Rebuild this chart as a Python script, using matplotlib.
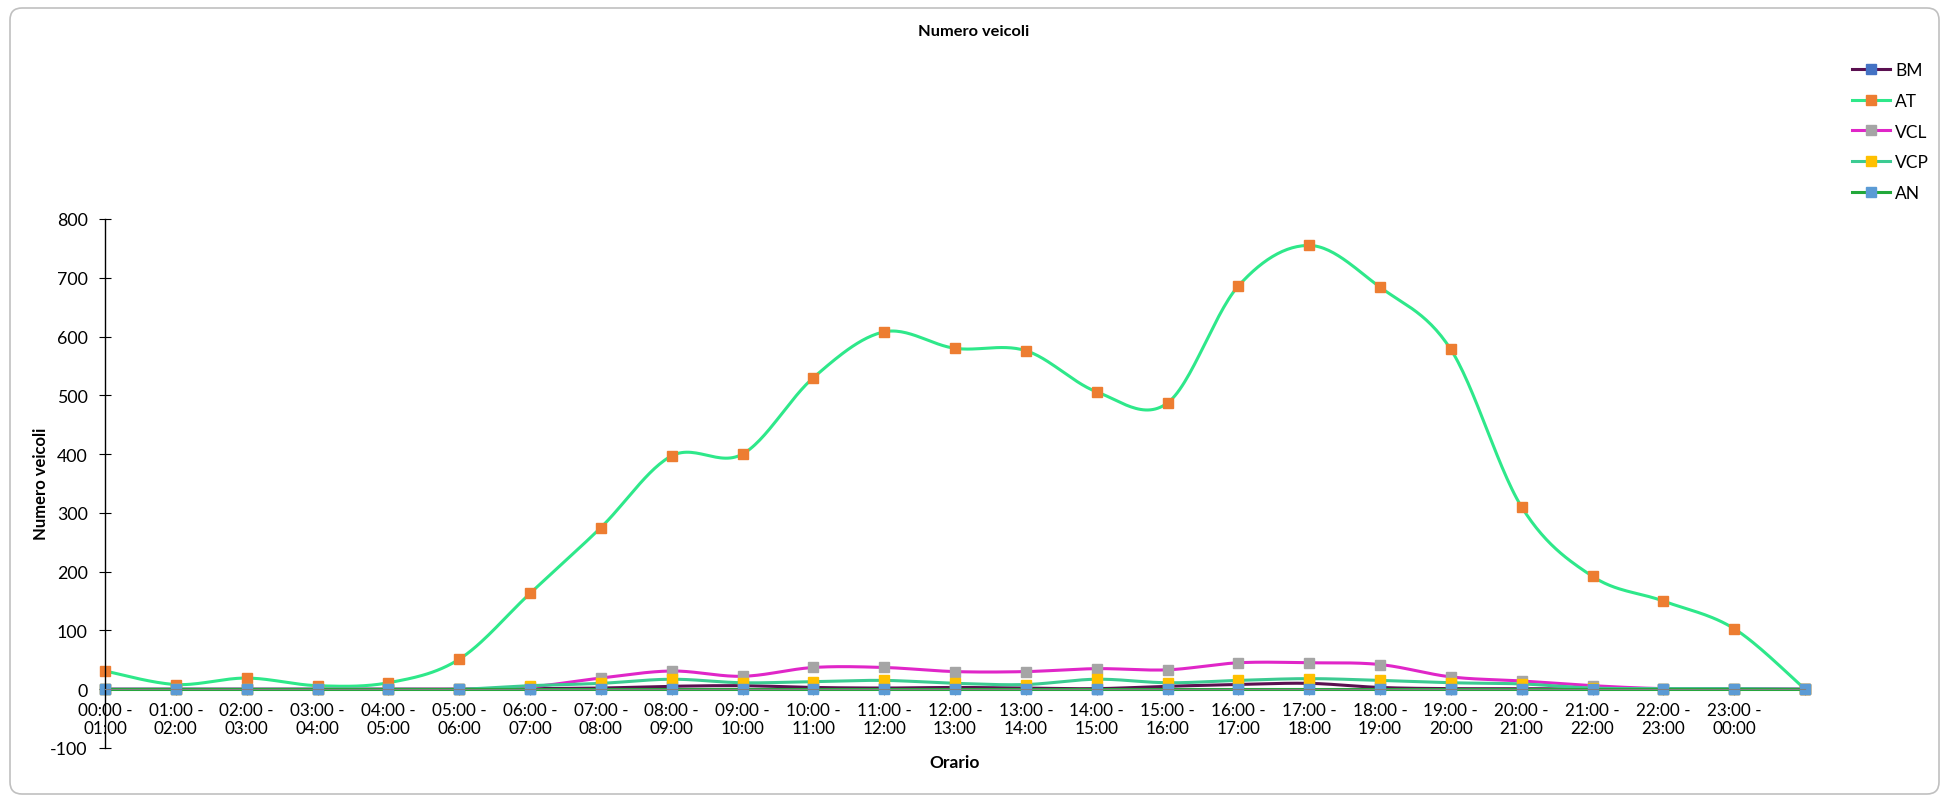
import matplotlib
matplotlib.use("Agg")
import matplotlib.pyplot as plt
from matplotlib.lines import Line2D
from matplotlib.patches import FancyBboxPatch
import numpy as np

# hourly slots (last point has no label)
slots = ["00:00 -\n01:00", "01:00 -\n02:00", "02:00 -\n03:00", "03:00 -\n04:00",
         "04:00 -\n05:00", "05:00 -\n06:00", "06:00 -\n07:00", "07:00 -\n08:00",
         "08:00 -\n09:00", "09:00 -\n10:00", "10:00 -\n11:00", "11:00 -\n12:00",
         "12:00 -\n13:00", "13:00 -\n14:00", "14:00 -\n15:00", "15:00 -\n16:00",
         "16:00 -\n17:00", "17:00 -\n18:00", "18:00 -\n19:00", "19:00 -\n20:00",
         "20:00 -\n21:00", "21:00 -\n22:00", "22:00 -\n23:00", "23:00 -\n00:00", ""]

bm = [0, 0, 0, 0, 0, 0, 1, 2, 5, 6, 3, 2, 3, 2, 1, 5, 8, 10, 3, 1, 1, 0, 0, 0, 0]
at = [31, 8, 19, 6, 11, 51, 163, 275, 397, 400, 530, 608, 580, 576, 506, 487,
      686, 755, 684, 578, 310, 192, 150, 103, 0]
vcl = [0, 0, 0, 0, 0, 0, 4, 19, 31, 22, 37, 37, 30, 30, 35, 33, 45, 45, 42, 21,
       14, 6, 1, 1, 0]
vcp = [0, 0, 0, 0, 0, 0, 6, 10, 17, 11, 13, 15, 10, 8, 17, 11, 15, 18, 15, 11,
       9, 2, 1, 1, 0]
an = [0] * 25

names = ["BM", "AT", "VCL", "VCP", "AN"]
series = [bm, at, vcl, vcp, an]
line_colors = ["#5A1050", "#2EE88A", "#E026C8", "#3CCB92", "#22A83A"]
marker_colors = ["#4472C4", "#ED7D31", "#A5A5A5", "#FFC000", "#5B9BD5"]


def smooth(y, n=30):
    # Catmull-Rom style bezier smoothing like Excel "smoothed line"
    y = np.asarray(y, dtype=float)
    x = np.arange(len(y), dtype=float)
    px = np.concatenate([[x[0]], x, [x[-1]]])
    py = np.concatenate([[y[0]], y, [y[-1]]])
    t = np.linspace(0, 1, n)[:, None]
    xs, ys = [], []
    for i in range(len(y) - 1):
        p0 = np.array([px[i + 1], py[i + 1]])
        p3 = np.array([px[i + 2], py[i + 2]])
        c1 = p0 + (p3 - np.array([px[i], py[i]])) / 6
        c2 = p3 - (np.array([px[i + 3], py[i + 3]]) - p0) / 6
        b = (1 - t) ** 3 * p0 + 3 * (1 - t) ** 2 * t * c1 + 3 * (1 - t) * t ** 2 * c2 + t ** 3 * p3
        xs.append(b[:, 0])
        ys.append(b[:, 1])
    return np.concatenate(xs), np.concatenate(ys)


plt.rcParams["font.family"] = ["Lato", "DejaVu Sans"]
plt.rcParams["axes.unicode_minus"] = False

W, H = 1948, 803
fig = plt.figure(figsize=(W / 100, H / 100), dpi=100)
ax = fig.add_axes([105 / W, 1 - 749 / H, 1700 / W, 529 / H])

x = np.arange(len(slots))
for name, vals, lc, mc in zip(names, series, line_colors, marker_colors):
    sx, sy = smooth(vals)
    ax.plot(sx, sy, color=lc, lw=2.2, solid_capstyle="round", clip_on=False)
    ax.plot(x, vals, ls="none", marker="s", ms=6.5, mfc=mc, mec=mc, clip_on=False)

ax.set_xlim(0, 24)
ax.set_ylim(-100, 800)
ax.set_yticks(range(-100, 801, 100))
ax.set_xticks(x)
ax.tick_params(axis="y", direction="inout", length=9, width=0.8, labelsize=12.8, pad=8)
ax.tick_params(axis="x", direction="out", length=4, width=0.8, color="#808080",
               pad=5, labelsize=12.3)
ax.set_xticklabels(slots, fontsize=12.3, linespacing=1.5)

ax.spines["top"].set_visible(False)
ax.spines["right"].set_visible(False)
ax.spines["bottom"].set_position(("data", 0))
ax.spines["bottom"].set_color("#808080")
ax.spines["left"].set_linewidth(1)

fig.text(41 / W, 1 - 484 / H, "Numero veicoli", fontsize=12, fontweight="bold",
         rotation=90, ha="center", va="center")
fig.text(955 / W, 1 - 763 / H, "Orario", fontsize=12.5, fontweight="bold",
         ha="center", va="center")
fig.text(974 / W, 1 - 32 / H, "Numero veicoli", fontsize=11.8, fontweight="bold",
         ha="center", va="center")

handles = [Line2D([], [], color=lc, lw=2.2, marker="s", ms=6.5, mfc=mc, mec=mc)
           for lc, mc in zip(line_colors, marker_colors)]
fig.legend(handles, names, loc="upper left", bbox_to_anchor=(1852 / W, 1 - 63 / H),
           frameon=False, fontsize=12.5, handlelength=2.2, handletextpad=0.3,
           labelspacing=0.85, borderpad=0, borderaxespad=0)

border = FancyBboxPatch((10, 8), 1929, 786, boxstyle="round,pad=0,rounding_size=12",
                        transform=None, fill=False, edgecolor="#C0C0C0", lw=1.2)
fig.patches.append(border)

fig.savefig("out.png", dpi=100)
